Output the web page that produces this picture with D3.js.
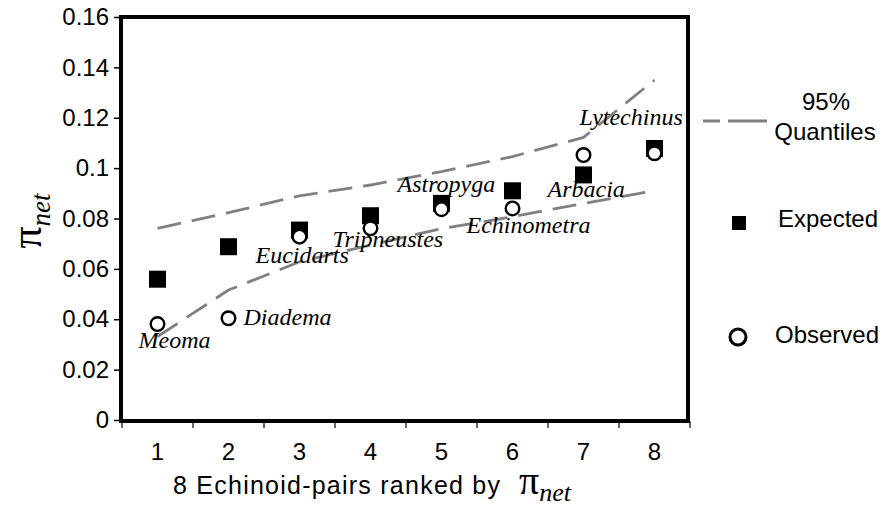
<!DOCTYPE html>
<html>
<head>
<meta charset="utf-8">
<script src="https://cdn.jsdelivr.net/npm/d3@7"></script>
<style>
  html, body { margin: 0; padding: 0; background: #fff; }
  svg { display: block; }
</style>
</head>
<body>
<svg id="chart" width="882" height="508"></svg>
<script>
// ---- data ----
const categories = ["1", "2", "3", "4", "5", "6", "7", "8"];
const pairNames = ["Meoma", "Diadema", "Eucidarts", "Tripneustes", "Astropyga", "Echinometra", "Arbacia", "Lytechinus"];
const expected = [0.0559, 0.0688, 0.0754, 0.0811, 0.0860, 0.0910, 0.0973, 0.1078];
const observed = [0.0381, 0.0404, 0.0728, 0.0761, 0.0837, 0.0840, 0.1052, 0.1059];
const upperQuantile = [0.0761, 0.0823, 0.0890, 0.0933, 0.0986, 0.1046, 0.1122, 0.1350];
const lowerQuantile = [0.0331, 0.0516, 0.0628, 0.0695, 0.0760, 0.0807, 0.0860, 0.0910];
const yTickValues = [0, 0.02, 0.04, 0.06, 0.08, 0.1, 0.12, 0.14, 0.16];
const yTickLabels = ["0", "0.02", "0.04", "0.06", "0.08", "0.1", "0.12", "0.14", "0.16"];

// ---- layout (pixel offsets of the species labels from their observed point) ----
const labelOffsets = [[-19, 24], [15, 7], [-44, 26], [-38, 19], [-44, -17], [-46, 25], [-36, 42], [-75, -28]];

const sans = "'Liberation Sans', Arial, Helvetica, sans-serif";
const serif = "'Liberation Serif', 'Times New Roman', serif";
const svg = d3.select("#chart");

const plot = { left: 121, right: 688, top: 17, bottom: 421 };
const x = d3.scaleBand().domain(categories).range([122, 690]).paddingInner(0).paddingOuter(0);
const y = d3.scaleLinear().domain([0, 0.16]).range([420, 17]);
const cx = c => x(c) + x.bandwidth() / 2;

// ---- Y axis ----
const yAxis = d3.axisLeft(y).tickValues(yTickValues)
  .tickFormat((d, i) => yTickLabels[i]).tickSize(7).tickPadding(5);
const yg = svg.append("g").attr("transform", `translate(${plot.left},0)`).call(yAxis);
yg.select(".domain").remove();
yg.selectAll(".tick line").attr("stroke", "#000").attr("stroke-width", 1.5);
yg.selectAll(".tick text").attr("font-family", sans).attr("font-size", 24).attr("fill", "#000");

// ---- X ticks at band boundaries + labels ----
const boundaries = categories.map(c => x(c)).concat([x.range()[1]]);
svg.append("g").selectAll("line").data(boundaries).join("line")
  .attr("x1", d => d).attr("x2", d => d)
  .attr("y1", plot.bottom).attr("y2", plot.bottom + 7)
  .attr("stroke", "#000").attr("stroke-width", 1.2);
svg.append("g").selectAll("text").data(categories).join("text")
  .attr("x", d => cx(d)).attr("y", 460)
  .attr("text-anchor", "middle")
  .attr("font-family", sans).attr("font-size", 24).attr("fill", "#000")
  .text(d => d);

// ---- quantile lines ----
const line = d3.line().x((d, i) => cx(categories[i])).y(d => y(d));
[upperQuantile, lowerQuantile].forEach(arr => {
  svg.append("path").datum(arr).attr("d", line)
    .attr("fill", "none").attr("stroke", "#808080")
    .attr("stroke-width", 2.8).attr("stroke-dasharray", "24,11");
});

// ---- species labels ----
svg.append("g").selectAll("text").data(pairNames).join("text")
  .attr("x", (d, i) => cx(categories[i]) + labelOffsets[i][0])
  .attr("y", (d, i) => y(observed[i]) + labelOffsets[i][1])
  .attr("font-family", serif).attr("font-style", "italic")
  .attr("font-size", 24).attr("fill", "#000")
  .text(d => d);

// ---- expected squares ----
const sq = 17;
svg.append("g").selectAll("rect").data(expected).join("rect")
  .attr("x", (d, i) => cx(categories[i]) - sq / 2)
  .attr("y", d => y(d) - sq / 2)
  .attr("width", sq).attr("height", sq).attr("fill", "#000");

// ---- observed circles ----
svg.append("g").selectAll("circle").data(observed).join("circle")
  .attr("cx", (d, i) => cx(categories[i]))
  .attr("cy", d => y(d))
  .attr("r", 6.8).attr("fill", "#fff").attr("stroke", "#000").attr("stroke-width", 2.4);

// ---- frame ----
svg.append("rect")
  .attr("x", plot.left).attr("y", plot.top)
  .attr("width", plot.right - plot.left).attr("height", plot.bottom - plot.top)
  .attr("fill", "none").attr("stroke", "#000").attr("stroke-width", 4);

// ---- axis titles ----
svg.append("text").attr("x", 173).attr("y", 494)
  .attr("font-family", sans).attr("font-size", 25).attr("fill", "#000")
  .attr("textLength", 327).attr("lengthAdjust", "spacing")
  .text("8 Echinoid-pairs ranked by");
const xt = svg.append("text").attr("x", 519).attr("y", 494)
  .attr("font-family", serif).attr("fill", "#000");
xt.append("tspan").attr("font-size", 40).text("π");
xt.append("tspan").attr("font-size", 26).attr("font-style", "italic").attr("dy", 7).text("net");

const yt = svg.append("text")
  .attr("transform", "translate(41,221) rotate(-90)")
  .attr("text-anchor", "middle")
  .attr("font-family", serif).attr("fill", "#000");
yt.append("tspan").attr("font-size", 44).text("π");
yt.append("tspan").attr("font-size", 27).attr("font-style", "italic").attr("dy", 9).text("net");

// ---- legend ----
const lg = svg.append("g");
lg.append("line").attr("x1", 703).attr("x2", 767).attr("y1", 121).attr("y2", 121)
  .attr("stroke", "#808080").attr("stroke-width", 2.8).attr("stroke-dasharray", "17,8,40,100");
lg.append("text").attr("x", 826).attr("y", 110).attr("text-anchor", "middle")
  .attr("font-family", sans).attr("font-size", 24).attr("fill", "#000").text("95%");
lg.append("text").attr("x", 825).attr("y", 140).attr("text-anchor", "middle")
  .attr("font-family", sans).attr("font-size", 24).attr("fill", "#000").text("Quantiles");
lg.append("rect").attr("x", 732).attr("y", 216).attr("width", 14).attr("height", 14).attr("fill", "#000");
lg.append("text").attr("x", 778).attr("y", 227)
  .attr("font-family", sans).attr("font-size", 24).attr("fill", "#000").text("Expected");
lg.append("circle").attr("cx", 738).attr("cy", 337).attr("r", 8)
  .attr("fill", "#fff").attr("stroke", "#000").attr("stroke-width", 3);
lg.append("text").attr("x", 775).attr("y", 343)
  .attr("font-family", sans).attr("font-size", 24).attr("fill", "#000").text("Observed");
</script>
</body>
</html>
